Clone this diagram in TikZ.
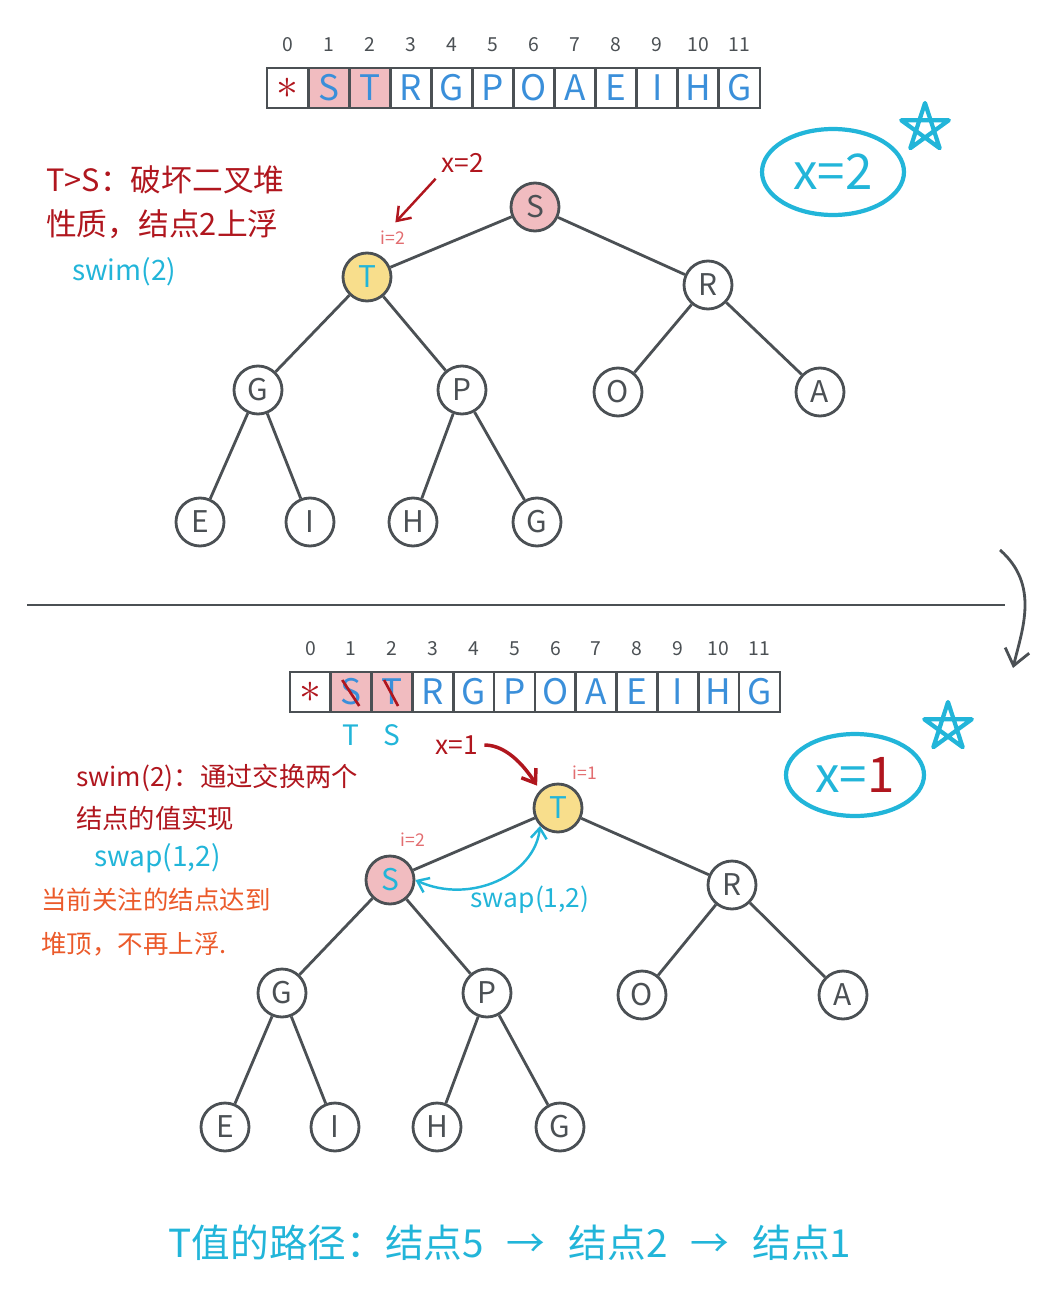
\documentclass[tikz,border=0pt]{standalone}
\usepackage{fontspec}
\setmainfont{Noto Sans CJK SC}
\usepackage{xcolor}
\usepackage{tikz}
\usetikzlibrary{arrows.meta}
\definecolor{edge}{HTML}{4B5054}
\definecolor{inkred}{HTML}{B0161E}
\definecolor{inkcyan}{HTML}{22B5D9}
\definecolor{inkblue}{HTML}{3A8FDA}
\definecolor{pinkfill}{HTML}{F1BCC0}
\definecolor{yellowfill}{HTML}{F8DE8C}
\definecolor{inkorange}{HTML}{EB5A2A}
\definecolor{idxred}{HTML}{E26D70}
\tikzset{
  cell/.style={draw=edge, line width=1.6pt, minimum width=0.82cm, minimum height=0.8cm, inner sep=0pt, text=inkblue, font=\fontsize{20}{20}\selectfont},
  idx/.style={text=edge, font=\fontsize{11}{11}\selectfont},
  vtx/.style={circle, draw=edge, line width=1.6pt, fill=white, minimum size=0.96cm, inner sep=0pt, text=edge, font=\fontsize{17}{17}\selectfont},
  tedge/.style={draw=edge, line width=1.6pt},
  note/.style={anchor=west, align=left, text=inkred, font=\fontsize{16}{24}\selectfont},
  ilab/.style={text=idxred, font=\fontsize{10}{10}\selectfont},
  xlab/.style={text=inkred, font=\fontsize{15}{15}\selectfont},
  redarr/.style={draw=inkred, line width=1.4pt, -{Straight Barb[length=7pt,width=10pt]}},
  swaparr/.style={draw=inkcyan, line width=1.4pt, {Straight Barb[length=6pt,width=9pt]}-{Straight Barb[length=6pt,width=9pt]}},
  ring/.style={draw=inkcyan, line width=2.4pt},
  ringlab/.style={text=inkcyan, font=\fontsize{28}{28}\selectfont}
}
\begin{document}
\begin{tikzpicture}[x=0.02cm, y=-0.02cm]
  \useasboundingbox (0,0) rectangle (1062,1308);

  % array before the swap
  \node[cell, text=inkred, font=\fontsize{30}{30}\selectfont] (a0) at (287.5,88) {$\ast$};
  \foreach \c/\f [count=\i] in {S/pinkfill,T/pinkfill,R/white,G/white,P/white,O/white,A/white,E/white,I/white,H/white,G/white}
    \node[cell, fill=\f] (a\i) at ({267+41.08*(\i+0.5)},88) {\c};
  \foreach \i in {0,...,11}
    \node[idx, above=5pt] at (a\i.north) {\i};

  % heap before the swap
  \node[vtx, fill=pinkfill] (t1) at (535,207) {S};
  \node[vtx, fill=yellowfill, text=inkcyan] (t2) at (367,277) {T};
  \node[vtx] (t3) at (708,285) {R};
  \node[vtx] (t4) at (258,390) {G};
  \node[vtx] (t5) at (462,390) {P};
  \node[vtx] (t6) at (618,392) {O};
  \node[vtx] (t7) at (820,392) {A};
  \node[vtx] (t8) at (200,522) {E};
  \node[vtx] (t9) at (310,522) {I};
  \node[vtx] (t10) at (413,522) {H};
  \node[vtx] (t11) at (537,522) {G};
  \foreach \p/\q in {1/2,1/3,2/4,2/5,3/6,3/7,4/8,4/9,5/10,5/11}
    \draw[tedge] (t\p) -- (t\q);

  \node[note, font=\fontsize{17.5}{25}\selectfont] (why) at (40,202) {T>S：破坏二叉堆\\性质，结点2上浮};
  \node[note, text=inkcyan] (swimA) at (66,272) {swim(2)};
  \node[xlab] (xa) at (463,163) {x=2};
  \node[ilab] (ia) at (393,238) {i=2};
  \draw[redarr, shorten >=2pt] (xa.south west) -- (ia.north);

  \node[ringlab] (xtwo) at (833,172) {x=2};
  \draw[ring] (xtwo) ellipse [x radius=1.42cm, y radius=0.86cm];
  \draw[ring, line join=round] (925,128) +(270:25) -- +(54:25) -- +(198:25) -- +(342:25) -- +(126:25) -- cycle;

  \draw[tedge] (27,605) -- (1005,605);
  \draw[tedge, -{Straight Barb[length=9pt,width=14pt]}] (1000,550) .. controls (1040,585) and (1022,630) .. (1013,668);

  % array after the swap
  \node[cell, text=inkred, font=\fontsize{30}{30}\selectfont] (b0) at (310.4,692) {$\ast$};
  \foreach \c/\f [count=\i] in {S/pinkfill,T/pinkfill,R/white,G/white,P/white,O/white,A/white,E/white,I/white,H/white,G/white}
    \node[cell, fill=\f] (b\i) at ({290+40.83*(\i+0.5)},692) {\c};
  \foreach \i in {0,...,11}
    \node[idx, above=5pt] at (b\i.north) {\i};
  \draw[inkred, line width=1.5pt] (b1.center) +(-9,-12) -- +(8,14);
  \draw[inkred, line width=1.5pt] (b2.center) +(-8,-12) -- +(6,14);
  \node[text=inkcyan, font=\fontsize{16}{16}\selectfont, below=3pt] at (b1.south) {T};
  \node[text=inkcyan, font=\fontsize{16}{16}\selectfont, below=3pt] at (b2.south) {S};

  % heap after the swap
  \node[vtx, fill=yellowfill, text=inkcyan] (u1) at (558,808) {T};
  \node[vtx, fill=pinkfill, text=inkcyan] (u2) at (390,880) {S};
  \node[vtx] (u3) at (732,885) {R};
  \node[vtx] (u4) at (282,993) {G};
  \node[vtx] (u5) at (487,993) {P};
  \node[vtx] (u6) at (642,995) {O};
  \node[vtx] (u7) at (843,995) {A};
  \node[vtx] (u8) at (225,1127) {E};
  \node[vtx] (u9) at (335,1127) {I};
  \node[vtx] (u10) at (437,1127) {H};
  \node[vtx] (u11) at (560,1127) {G};
  \foreach \p/\q in {1/2,1/3,2/4,2/5,3/6,3/7,4/8,4/9,5/10,5/11}
    \draw[tedge] (u\p) -- (u\q);

  \node[xlab] (xb) at (457,745) {x=1};
  \node[ilab] (ib) at (585,773) {i=1};
  \node[ilab] (ic) at (413,840) {i=2};
  \draw[redarr, line width=2pt, shorten >=3pt] (xb.east) .. controls +(25,0) and +(-12,-18) .. (u1.north west);
  \draw[swaparr] (u2.east) .. controls (470,905) and (535,875) .. (u1.south west);
  \node[text=inkcyan, font=\fontsize{15}{15}\selectfont] (swpB) at (530,900) {swap(1,2)};

  \node[note, font=\fontsize{15}{24}\selectfont] (how) at (70,797) {swim(2)：通过交换两个\\结点的值实现};
  \node[note, text=inkcyan] (swpA) at (88,858) {swap(1,2)};
  \node[note, text=inkorange, font=\fontsize{14.5}{25}\selectfont] (stop) at (35,922) {当前关注的结点达到\\堆顶，不再上浮.};

  \node[ringlab] (xone) at (855,775) {x=\textcolor{inkred}{1}};
  \draw[ring] (xone) ellipse [x radius=1.38cm, y radius=0.82cm];
  \draw[ring, line join=round] (948,727) +(270:25) -- +(54:25) -- +(198:25) -- +(342:25) -- +(126:25) -- cycle;

  \node[text=inkcyan, font=\fontsize{22}{22}\selectfont] (route) at (510,1243) {T值的路径：结点5\hspace{0.6em}→\hspace{0.6em}结点2\hspace{0.6em}→\hspace{0.6em}结点1};
\end{tikzpicture}
\end{document}
